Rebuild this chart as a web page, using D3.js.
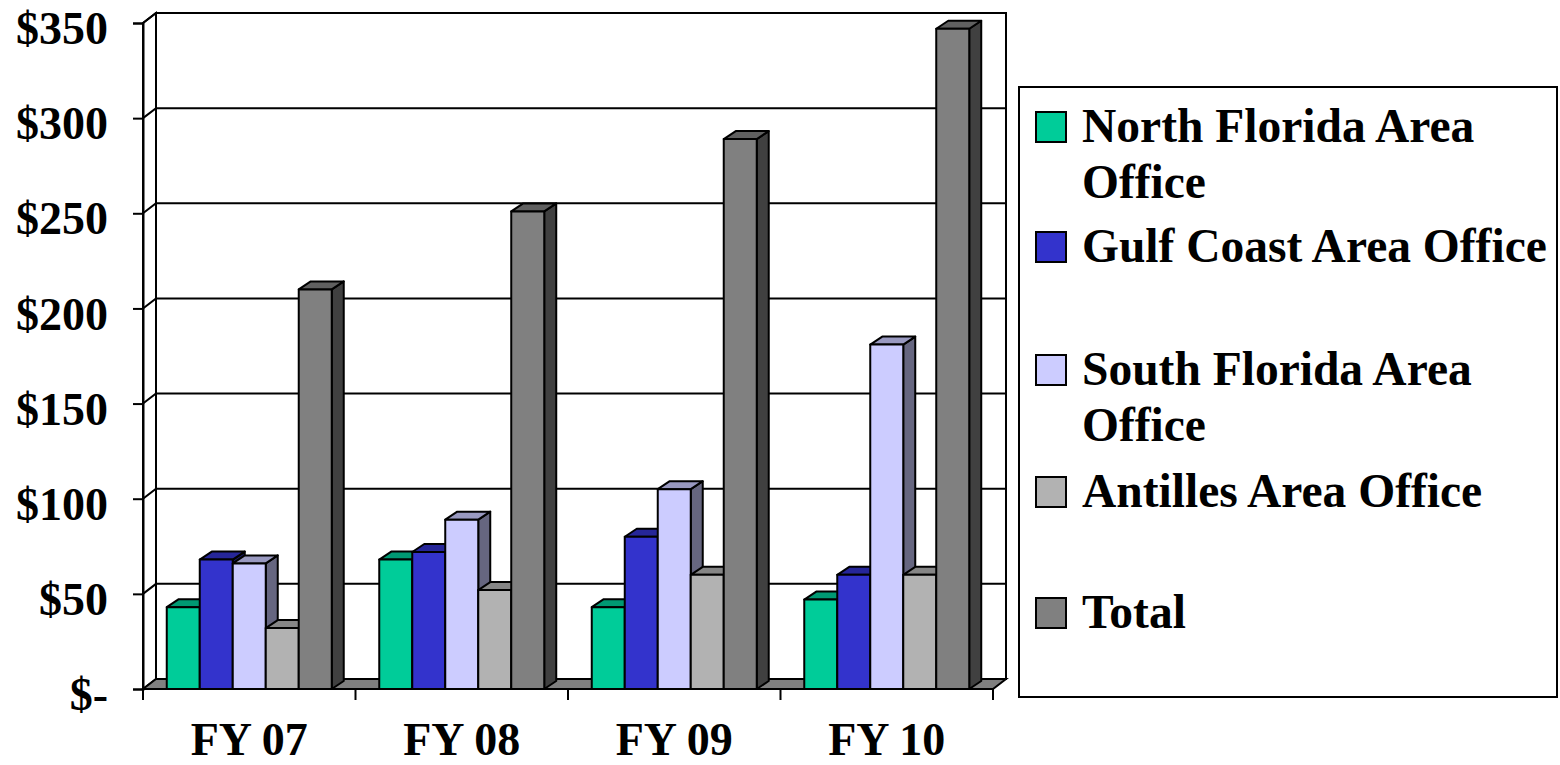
<!DOCTYPE html>
<html>
<head>
<meta charset="utf-8">
<script src="https://cdn.jsdelivr.net/npm/d3@7"></script>
<style>
  body { margin: 0; background: #fff; }
  svg text { font-family: "Liberation Serif", "Times New Roman", serif; font-weight: bold; font-size: 46px; fill: #000; }
</style>
</head>
<body>
<svg id="chart" width="1560" height="765"></svg>
<script>
// data
var years = ["FY 07", "FY 08", "FY 09", "FY 10"];
var seriesNames = ["North Florida Area Office", "Gulf Coast Area Office", "South Florida Area Office", "Antilles Area Office", "Total"];
var northFlorida = [43, 68, 43, 47];
var gulfCoast = [68, 72, 80, 60];
var southFlorida = [66, 89, 105, 181];
var antilles = [32, 52, 60, 60];
var total = [210, 251, 289, 347];
var yTicks = [0, 50, 100, 150, 200, 250, 300, 350];
var yTickLabels = ["$-", "$50", "$100", "$150", "$200", "$250", "$300", "$350"];

var values = [northFlorida, gulfCoast, southFlorida, antilles, total];
var fronts = ["#00cc99", "#3333cc", "#ccccff", "#b2b2b2", "#808080"];
var tops = ["#009973", "#262699", "#9999c0", "#868686", "#606060"];
var sides = ["#00664d", "#1a1a66", "#666680", "#595959", "#404040"];

var svg = d3.select("#chart");

// plot geometry
var plotLeft = 143, plotRight = 993, plotBottom = 689, plotTop = 23;
var DX = 13, DY = 10;       // wall / floor depth
var BX = 12, BY = 8;        // bar depth

var y = d3.scaleLinear().domain([0, 350]).range([plotBottom, plotTop]);
var x0 = d3.scaleBand().domain(years).range([plotLeft, plotRight]);
var x1 = d3.scaleBand().domain(d3.range(seriesNames.length)).range([0, x0.bandwidth()]).paddingInner(0).paddingOuter(0.72);

var line = d3.line();

// back wall
svg.append("rect")
  .attr("x", plotLeft + DX).attr("y", plotTop - DY)
  .attr("width", plotRight - plotLeft).attr("height", plotBottom - plotTop)
  .attr("fill", "#fff").attr("stroke", "#000").attr("stroke-width", 2);

// side wall
svg.append("path")
  .attr("d", line([[plotLeft, plotTop], [plotLeft + DX, plotTop - DY], [plotLeft + DX, plotBottom - DY], [plotLeft, plotBottom]]) + "Z")
  .attr("fill", "#fff").attr("stroke", "#000").attr("stroke-width", 2);

// gridlines
svg.append("g").selectAll("path")
  .data(yTicks.filter(d => d > 0))
  .join("path")
  .attr("d", d => line([[plotLeft, y(d)], [plotLeft + DX, y(d) - DY], [plotRight + DX, y(d) - DY]]))
  .attr("fill", "none").attr("stroke", "#000").attr("stroke-width", 2);

// floor
svg.append("path")
  .attr("d", line([[plotLeft, plotBottom], [plotRight, plotBottom], [plotRight + DX, plotBottom - DY], [plotLeft + DX, plotBottom - DY]]) + "Z")
  .attr("fill", "#808080").attr("stroke", "#000").attr("stroke-width", 2);

// y axis
var yAxis = d3.axisLeft(y)
  .tickValues(yTicks)
  .tickFormat((d, i) => yTickLabels[i])
  .tickSize(10)
  .tickPadding(25);

var ya = svg.append("g").attr("transform", "translate(" + plotLeft + ",0)").call(yAxis);
ya.select(".domain").attr("stroke", "#000").attr("stroke-width", 2);
ya.selectAll(".tick line").attr("stroke", "#000").attr("stroke-width", 2);
ya.selectAll(".tick text")
  .attr("dy", "0.45em")
  .style("font-family", "'Liberation Serif', 'Times New Roman', serif")
  .style("font-weight", "bold")
  .style("font-size", "46px");

// x axis ticks + labels
var xTickPos = years.map(d => x0(d)).concat([plotRight]);
svg.append("g").selectAll("line")
  .data(xTickPos)
  .join("line")
  .attr("x1", d => d).attr("x2", d => d)
  .attr("y1", plotBottom).attr("y2", plotBottom + 11)
  .attr("stroke", "#000").attr("stroke-width", 2);

svg.append("g").selectAll("text")
  .data(years)
  .join("text")
  .attr("x", d => x0(d) + x0.bandwidth() / 2)
  .attr("y", 755)
  .attr("text-anchor", "middle")
  .text(d => d);

// bars
var bars = svg.append("g");
years.forEach(function(yr, i) {
  values.forEach(function(vals, j) {
    var v = vals[i];
    var bx = x0(yr) + x1(j);
    var w = x1.bandwidth();
    var yt = y(v);
    var g = bars.append("g").attr("stroke", "#000").attr("stroke-width", 2).attr("stroke-linejoin", "round");
    g.append("path")
      .attr("d", line([[bx + w, yt], [bx + w + BX, yt - BY], [bx + w + BX, plotBottom - BY], [bx + w, plotBottom]]) + "Z")
      .attr("fill", sides[j]);
    g.append("path")
      .attr("d", line([[bx, yt], [bx + BX, yt - BY], [bx + w + BX, yt - BY], [bx + w, yt]]) + "Z")
      .attr("fill", tops[j]);
    g.append("rect")
      .attr("x", bx).attr("y", yt)
      .attr("width", w).attr("height", plotBottom - yt)
      .attr("fill", fronts[j]);
  });
});

// legend
var legendRows = [112, 232, 355, 477, 598];
var lineGap = 56;
var leg = svg.append("g");
leg.append("rect")
  .attr("x", 1019).attr("y", 87).attr("width", 538).attr("height", 610)
  .attr("fill", "#fff").attr("stroke", "#000").attr("stroke-width", 2);

seriesNames.forEach(function(name, j) {
  var ty = legendRows[j];
  leg.append("rect")
    .attr("x", 1036).attr("y", ty).attr("width", 30).attr("height", 30)
    .attr("fill", fronts[j]).attr("stroke", "#000").attr("stroke-width", 2);
  var t = leg.append("text").attr("x", 1082).attr("y", ty + 30).style("font-size", "47.5px");
  var words = name.split(" ");
  var lineWords = [];
  var ts = t.append("tspan").attr("x", 1082).attr("y", ty + 30);
  var ln = 0;
  words.forEach(function(wd) {
    lineWords.push(wd);
    ts.text(lineWords.join(" "));
    if (ts.node().getComputedTextLength() > 475 && lineWords.length > 1) {
      lineWords.pop();
      ts.text(lineWords.join(" "));
      lineWords = [wd];
      ln++;
      ts = t.append("tspan").attr("x", 1082).attr("y", ty + 30 + ln * lineGap).text(wd);
    }
  });
});
</script>
</body>
</html>
